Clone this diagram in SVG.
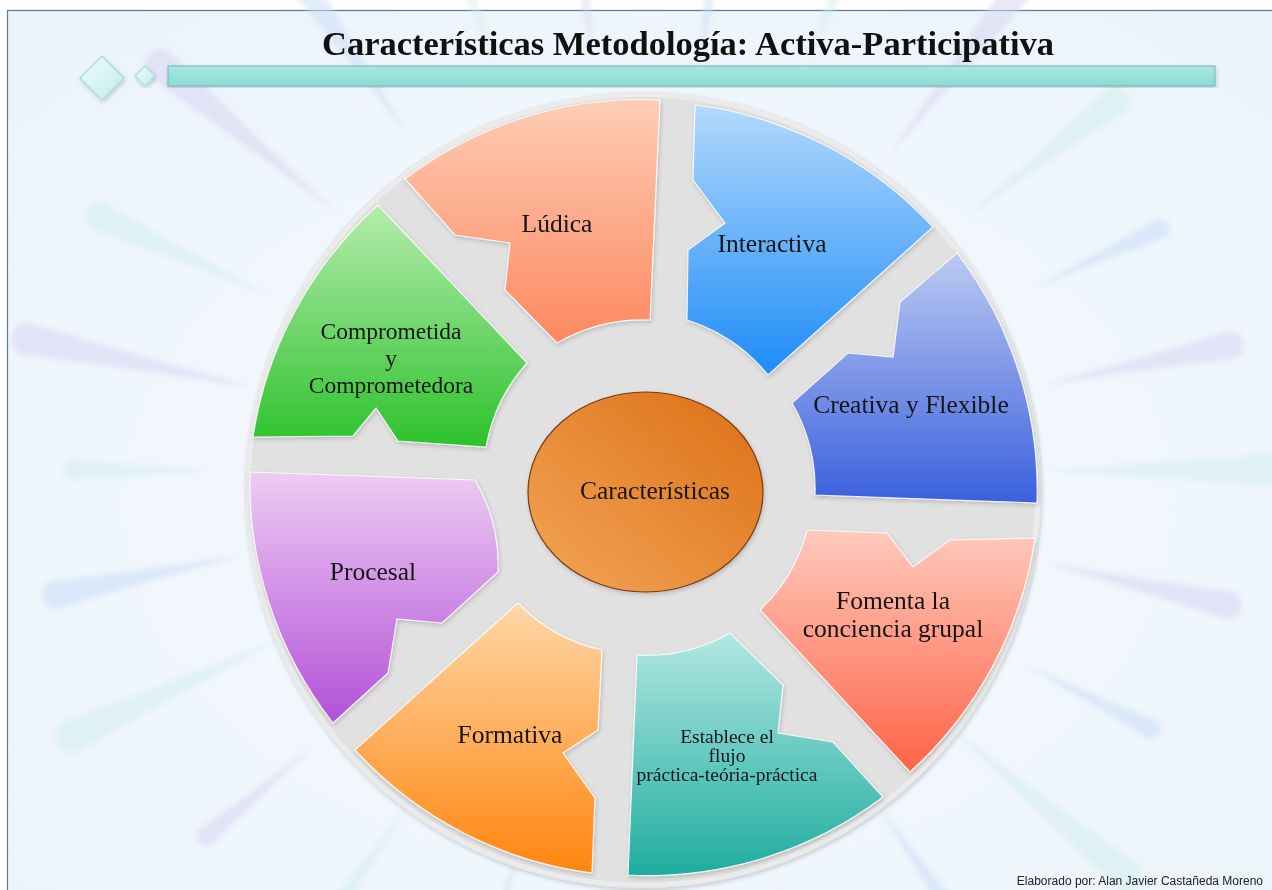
<svg xmlns="http://www.w3.org/2000/svg" xmlns:xlink="http://www.w3.org/1999/xlink" width="1272" height="890" viewBox="0 0 1272 890">
<defs>
<style>
.lbl{font-family:"Liberation Serif","Times New Roman",serif;font-size:25.5px;fill:#151515;text-anchor:middle}
.sm{font-size:19.5px}
.cm{font-size:23.5px}
.seg{stroke:#ffffff;stroke-opacity:0.85;stroke-width:1.2;filter:url(#sh)}
.sp1{fill:#d9d6f3;opacity:0.55}
.sp2{fill:#cadcf5;opacity:0.55}
.sp3{fill:#d3efeb;opacity:0.55}
</style>
<filter id="sh" x="-10%" y="-10%" width="120%" height="120%">
<feDropShadow dx="1" dy="2" stdDeviation="2" flood-color="#000" flood-opacity="0.18"/>
</filter>
<filter id="blur" x="-20%" y="-20%" width="140%" height="140%">
<feGaussianBlur stdDeviation="2.5"/>
</filter>
<radialGradient id="bg" cx="0.5" cy="0.55" r="0.7">
<stop offset="0" stop-color="#f7fbff"/>
<stop offset="1" stop-color="#ebf3fb"/>
</radialGradient>
<linearGradient id="gL" x1="0" y1="0" x2="0" y2="1"><stop offset="0" stop-color="#fdcdb6"/><stop offset="1" stop-color="#fd8860"/></linearGradient>
<linearGradient id="gI" x1="0" y1="0" x2="0" y2="1"><stop offset="0" stop-color="#b4d9fc"/><stop offset="1" stop-color="#1d8cf8"/></linearGradient>
<linearGradient id="gC" x1="0" y1="0" x2="0" y2="1"><stop offset="0" stop-color="#bccaf2"/><stop offset="1" stop-color="#3a60dc"/></linearGradient>
<linearGradient id="gF" x1="0" y1="0" x2="0" y2="1"><stop offset="0" stop-color="#ffcabd"/><stop offset="1" stop-color="#ff6246"/></linearGradient>
<linearGradient id="gE" x1="0" y1="0" x2="0" y2="1"><stop offset="0" stop-color="#b2e8e2"/><stop offset="1" stop-color="#1eac9f"/></linearGradient>
<linearGradient id="gO" x1="0" y1="0" x2="0" y2="1"><stop offset="0" stop-color="#ffd7a8"/><stop offset="1" stop-color="#ff850e"/></linearGradient>
<linearGradient id="gP" x1="0" y1="0" x2="0" y2="1"><stop offset="0" stop-color="#eeccf3"/><stop offset="1" stop-color="#b250d8"/></linearGradient>
<linearGradient id="gG" x1="0" y1="0" x2="0" y2="1"><stop offset="0" stop-color="#b6ecae"/><stop offset="1" stop-color="#2cc22c"/></linearGradient>
<linearGradient id="gCen" x1="0" y1="1" x2="1" y2="0"><stop offset="0" stop-color="#f3a558"/><stop offset="1" stop-color="#dc7014"/></linearGradient>
<linearGradient id="gBar" x1="0" y1="0" x2="0" y2="1"><stop offset="0" stop-color="#a6e6e0"/><stop offset="1" stop-color="#8cdcd4"/></linearGradient>
<linearGradient id="gDia" x1="0" y1="0" x2="1" y2="1"><stop offset="0" stop-color="#f2fcfc"/><stop offset="1" stop-color="#bfeceb"/></linearGradient>
<path id="spA" d="M1053 470 Q1180 462 1243 456 A14 14 0 0 1 1243 484 Q1180 478 1053 470 Z"/>
<path id="spB" d="M1073 470 Q1170 464 1213 460 A10 10 0 0 1 1213 480 Q1170 476 1073 470 Z"/>
<path id="spC" d="M1043 470 Q1200 460 1273 454 A16 16 0 0 1 1273 486 Q1200 480 1043 470 Z"/>
</defs>
<rect x="0" y="0" width="1272" height="890" fill="#ffffff"/>
<rect x="7.5" y="10.5" width="1280" height="900" fill="url(#bg)" stroke="#5b7a92" stroke-width="1.2"/>
<g id="rays" filter="url(#blur)">
<use href="#spC" class="sp1" transform="rotate(-140 643 470)"/>
<use href="#spA" class="sp2" transform="rotate(-125 643 470)"/>
<use href="#spB" class="sp3" transform="rotate(-110 643 470)"/>
<use href="#spA" class="sp1" transform="rotate(-97 643 470)"/>
<use href="#spC" class="sp2" transform="rotate(-82 643 470)"/>
<use href="#spB" class="sp3" transform="rotate(-68 643 470)"/>
<use href="#spC" class="sp1" transform="rotate(-52 643 470)"/>
<use href="#spA" class="sp3" transform="rotate(-38 643 470)"/>
<use href="#spB" class="sp2" transform="rotate(-25 643 470)"/>
<use href="#spA" class="sp1" transform="rotate(-12 643 470)"/>
<use href="#spC" class="sp3" transform="rotate(0 643 470)"/>
<use href="#spA" class="sp1" transform="rotate(13 643 470)"/>
<use href="#spB" class="sp2" transform="rotate(27 643 470)"/>
<use href="#spC" class="sp3" transform="rotate(40 643 470)"/>
<use href="#spA" class="sp2" transform="rotate(55 643 470)"/>
<use href="#spB" class="sp1" transform="rotate(72 643 470)"/>
<use href="#spC" class="sp2" transform="rotate(108 643 470)"/>
<use href="#spA" class="sp3" transform="rotate(125 643 470)"/>
<use href="#spB" class="sp1" transform="rotate(140 643 470)"/>
<use href="#spC" class="sp3" transform="rotate(155 643 470)"/>
<use href="#spA" class="sp2" transform="rotate(168 643 470)"/>
<use href="#spB" class="sp3" transform="rotate(180 643 470)"/>
<use href="#spC" class="sp1" transform="rotate(-168 643 470)"/>
<use href="#spA" class="sp3" transform="rotate(-155 643 470)"/>
</g>
<g id="header">
<rect x="168" y="66" width="1047" height="20" fill="url(#gBar)" stroke="#6fb6b0" stroke-width="1" filter="url(#sh)"/>
<path d="M102 56 L124 78 L102 100 L80 78 Z" fill="url(#gDia)" stroke="#a6dcdc" stroke-width="1.2" filter="url(#sh)"/>
<path d="M145 66 L155 76 L145 86 L135 76 Z" fill="url(#gDia)" stroke="#a6dcdc" stroke-width="1.2" filter="url(#sh)"/>
<text x="688" y="55" font-family="'Liberation Serif','Times New Roman',serif" font-size="34.5" font-weight="bold" fill="#111" text-anchor="middle">Características Metodología: Activa-Participativa</text>
</g>
<g id="ring">
<circle cx="643" cy="490" r="398" fill="#e1e1e1" filter="url(#sh)"/>
<circle cx="643" cy="490" r="395" fill="none" stroke="#ebebeb" stroke-width="5"/>
</g>
<g id="connectors"></g>
<g id="ludica">
<path class="seg" fill="url(#gL)" d="M405 179 A390 390 0 0 1 660 100 L650 320 A170 170 0 0 0 557 343 L505 290 L510 243 L455 235 Z"/>
<text class="lbl" x="557" y="232">Lúdica</text>
</g>
<g id="interactiva">
<path class="seg" fill="url(#gI)" d="M695 105 A390 390 0 0 1 933 227 L768 375 A170 170 0 0 0 687 320 L688 250 L725 223 L693 180 Z"/>
<text class="lbl" x="772" y="252">Interactiva</text>
</g>
<g id="creativa">
<path class="seg" fill="url(#gC)" d="M957 253 A392 392 0 0 1 1037 503 L815 495 A172 172 0 0 0 792 403 L848 353 L893 357 L900 302 Z"/>
<text class="lbl" x="911" y="413">Creativa y Flexible</text>
</g>
<g id="fomenta">
<path class="seg" fill="url(#gF)" d="M807 530 L887 533 L913 567 L950 540 L1035 538 A392 392 0 0 1 910 772 L760 610 A168 168 0 0 0 807 530 Z"/>
<text class="lbl" x="893" y="609">Fomenta la</text>
<text class="lbl" x="893" y="637">conciencia grupal</text>
</g>
<g id="establece">
<path class="seg" fill="url(#gE)" d="M637 655 A166 166 0 0 0 730 633 L783 685 L778 733 L833 742 L883 797 A390 390 0 0 1 628 875 Z"/>
<text class="lbl sm" x="727" y="743">Establece el</text>
<text class="lbl sm" x="727" y="762">flujo</text>
<text class="lbl sm" x="727" y="781">práctica-teória-práctica</text>
</g>
<g id="formativa">
<path class="seg" fill="url(#gO)" d="M518 603 A168 168 0 0 0 602 650 L598 730 L563 753 L595 798 L592 873 A388 388 0 0 1 355 750 Z"/>
<text class="lbl" x="510" y="743">Formativa</text>
</g>
<g id="procesal">
<path class="seg" fill="url(#gP)" d="M250 472 L475 480 A168 168 0 0 1 498 572 L442 623 L397 619 L388 673 L333 723 A390 390 0 0 1 250 472 Z"/>
<text class="lbl" x="373" y="580">Procesal</text>
</g>
<g id="comprometida">
<path class="seg" fill="url(#gG)" d="M378 205 L527 363 A170 170 0 0 0 486 447 L398 441 L376 408 L353 436 L253 437 A392 392 0 0 1 378 205 Z"/>
<text class="lbl cm" x="391" y="339">Comprometida</text>
<text class="lbl cm" x="391" y="366">y</text>
<text class="lbl cm" x="391" y="393">Comprometedora</text>
</g>
<g id="centro">
<ellipse cx="645.5" cy="492" rx="117.5" ry="100" fill="url(#gCen)" stroke="#7a3a12" stroke-width="1.2" filter="url(#sh)"/>
<text class="lbl" x="655" y="499">Características</text>
</g>
<text x="1263" y="885" font-family="'Liberation Sans',Arial,sans-serif" font-size="12" fill="#222" text-anchor="end">Elaborado por: Alan Javier Castañeda Moreno</text>
</svg>
